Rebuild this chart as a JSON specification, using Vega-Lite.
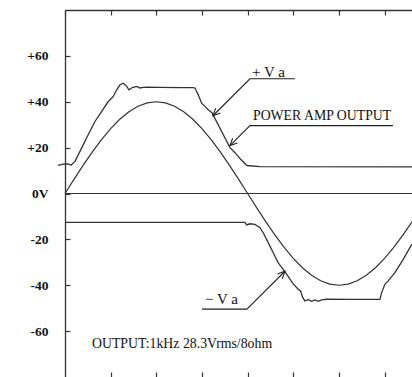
{
  "$schema": "https://vega.github.io/schema/vega-lite/v6.json",
  "width": 347,
  "height": 367,
  "autosize": {"type": "none"},
  "padding": {"left": 65, "top": 10, "right": 0, "bottom": 0},
  "background": "white",
  "config": {
    "view": {"stroke": null},
    "axis": {"grid": false, "domainColor": "#333", "tickColor": "#333", "domainWidth": 1.3, "tickWidth": 1.2, "title": null}
  },
  "datasets": {
    "sine": [
      {"t": 0, "v": 0}, {"t": 25, "v": 6.26}, {"t": 50, "v": 12.36}, {"t": 75, "v": 18.16},
      {"t": 100, "v": 23.51}, {"t": 125, "v": 28.28}, {"t": 150, "v": 32.36}, {"t": 175, "v": 35.64},
      {"t": 200, "v": 38.04}, {"t": 225, "v": 39.51}, {"t": 250, "v": 40}, {"t": 275, "v": 39.51},
      {"t": 300, "v": 38.04}, {"t": 325, "v": 35.64}, {"t": 350, "v": 32.36}, {"t": 375, "v": 28.28},
      {"t": 400, "v": 23.51}, {"t": 425, "v": 18.16}, {"t": 450, "v": 12.36}, {"t": 475, "v": 6.26},
      {"t": 500, "v": 0}, {"t": 525, "v": -6.26}, {"t": 550, "v": -12.36}, {"t": 575, "v": -18.16},
      {"t": 600, "v": -23.51}, {"t": 625, "v": -28.28}, {"t": 650, "v": -32.36}, {"t": 675, "v": -35.64},
      {"t": 700, "v": -38.04}, {"t": 725, "v": -39.51}, {"t": 750, "v": -40}, {"t": 775, "v": -39.51},
      {"t": 800, "v": -38.04}, {"t": 825, "v": -35.64}, {"t": 850, "v": -32.36}, {"t": 875, "v": -28.28},
      {"t": 900, "v": -23.51}, {"t": 925, "v": -18.16}, {"t": 950, "v": -12.36}
    ],
    "pva": [
      {"t": -19, "v": 12.3}, {"t": -5.5, "v": 12.8}, {"t": 9, "v": 12.9}, {"t": 16.4, "v": 12.3},
      {"t": 27.4, "v": 14.0}, {"t": 45.7, "v": 19.9}, {"t": 63.8, "v": 25.7}, {"t": 82.1, "v": 31.4},
      {"t": 100.4, "v": 35.8}, {"t": 118.5, "v": 40.1}, {"t": 132.2, "v": 42.3}, {"t": 141.5, "v": 45.2},
      {"t": 150.5, "v": 47.4}, {"t": 159.6, "v": 48.1}, {"t": 168.9, "v": 46.7}, {"t": 175.2, "v": 45.2},
      {"t": 184.2, "v": 46.2}, {"t": 196.2, "v": 46.7}, {"t": 205.3, "v": 46.0}, {"t": 214.3, "v": 46.3},
      {"t": 224.4, "v": 46.4}, {"t": 260, "v": 46.3}, {"t": 314.8, "v": 46.2}, {"t": 350.3, "v": 46.2},
      {"t": 355.8, "v": 46.0}, {"t": 364.8, "v": 43.0}, {"t": 374.1, "v": 39.4}, {"t": 383.3, "v": 38.0},
      {"t": 392.2, "v": 36.5}, {"t": 402.3, "v": 35.2}, {"t": 451.6, "v": 20.0}, {"t": 465.3, "v": 17.8},
      {"t": 481.7, "v": 14.8}, {"t": 498.1, "v": 12.2}, {"t": 533.7, "v": 11.7}, {"t": 950, "v": 11.6}
    ],
    "nva": [
      {"t": 0, "v": -12.6}, {"t": 492.7, "v": -12.6}, {"t": 497.3, "v": -13.7}, {"t": 506.3, "v": -13.2},
      {"t": 520, "v": -13.5}, {"t": 533.7, "v": -14.9}, {"t": 542.7, "v": -17.1}, {"t": 556.4, "v": -21.4},
      {"t": 570.1, "v": -25.8}, {"t": 583, "v": -30.0}, {"t": 596.8, "v": -33.0}, {"t": 610.4, "v": -36.0},
      {"t": 624.1, "v": -39.3}, {"t": 638.5, "v": -41.7}, {"t": 645.1, "v": -42.5}, {"t": 650.6, "v": -45.3},
      {"t": 656.9, "v": -46.8}, {"t": 665.9, "v": -46.3}, {"t": 675.2, "v": -47.0}, {"t": 684.3, "v": -46.4},
      {"t": 693.3, "v": -47.0}, {"t": 702.6, "v": -46.4}, {"t": 716.3, "v": -46.1}, {"t": 780, "v": -46.2},
      {"t": 862.2, "v": -46.2}, {"t": 866.8, "v": -43.2}, {"t": 875.8, "v": -39.6}, {"t": 884.9, "v": -38.1},
      {"t": 903.2, "v": -34.5}, {"t": 926, "v": -28.7}, {"t": 944.3, "v": -23.6}, {"t": 950, "v": -22.0}
    ],
    "arrows": [
      {"seg": "a1", "o": 1, "t": 629.5, "v": 50}, {"seg": "a1", "o": 2, "t": 506.3, "v": 50}, {"seg": "a1", "o": 3, "t": 405, "v": 33.9},
      {"seg": "h1", "o": 1, "t": 425.5, "v": 35.1}, {"seg": "h1", "o": 2, "t": 405, "v": 33.9}, {"seg": "h1", "o": 3, "t": 412.5, "v": 37.2},
      {"seg": "a2", "o": 1, "t": 897.7, "v": 29.6}, {"seg": "a2", "o": 2, "t": 506.3, "v": 29.6}, {"seg": "a2", "o": 3, "t": 451.6, "v": 20.9},
      {"seg": "h2", "o": 1, "t": 472.1, "v": 22.0}, {"seg": "h2", "o": 2, "t": 451.6, "v": 20.9}, {"seg": "h2", "o": 3, "t": 459, "v": 24.1},
      {"seg": "a3", "o": 1, "t": 375, "v": -50.4}, {"seg": "a3", "o": 2, "t": 498.1, "v": -50.4}, {"seg": "a3", "o": 3, "t": 602.1, "v": -33.9},
      {"seg": "h3", "o": 1, "t": 594.7, "v": -37.2}, {"seg": "h3", "o": 2, "t": 602.1, "v": -33.9}, {"seg": "h3", "o": 3, "t": 581.6, "v": -35.1}
    ],
    "labels": [
      {"t": 511.8, "v": 53, "txt": "+ V a", "size": "big"},
      {"t": 514.6, "v": 33.9, "txt": "POWER AMP OUTPUT", "size": "small"},
      {"t": 383.2, "v": -46.1, "txt": "− V a", "size": "big"},
      {"t": 73.9, "v": -65.7, "txt": "OUTPUT:1kHz 28.3Vrms/8ohm", "size": "small"}
    ]
  },
  "resolve": {"axis": {"x": "independent", "y": "independent"}},
  "layer": [
    {
      "data": {"name": "sine"},
      "mark": {"type": "line", "stroke": "#333", "strokeWidth": 1.2},
      "encoding": {
        "x": {"field": "t", "type": "quantitative", "scale": {"domain": [0, 950], "nice": false, "zero": false},
              "axis": {"orient": "top", "labels": false, "tickSize": -5, "values": [0, 125, 250, 375, 500, 625, 750, 875], "domain": true}},
        "y": {"field": "v", "type": "quantitative", "scale": {"domain": [-80, 80], "nice": false},
              "axis": {"orient": "left", "values": [60, 40, 20, 0, -20, -40, -60], "tickSize": -5, "labelPadding": 22,
                       "labelExpr": "datum.value > 0 ? '+' + datum.value : (datum.value == 0 ? '0V' : '' + datum.value)",
                       "labelFont": "Liberation Serif", "labelFontWeight": "bold", "labelFontSize": 13.5, "labelColor": "#111"}}
      }
    },
    {
      "data": {"name": "pva"},
      "mark": {"type": "line", "stroke": "#333", "strokeWidth": 1.3},
      "encoding": {
        "x": {"field": "t", "type": "quantitative",
              "axis": {"orient": "bottom", "labels": false, "tickSize": -5, "domain": false, "values": [125, 250, 375, 500, 625, 750, 875]}},
        "y": {"field": "v", "type": "quantitative", "axis": null}
      }
    },
    {
      "data": {"name": "nva"},
      "mark": {"type": "line", "stroke": "#333", "strokeWidth": 1.3},
      "encoding": {
        "x": {"field": "t", "type": "quantitative", "axis": null},
        "y": {"field": "v", "type": "quantitative", "axis": null}
      }
    },
    {
      "data": {"values": [{"t": 0, "v": 0}, {"t": 950, "v": 0}]},
      "mark": {"type": "line", "stroke": "#333", "strokeWidth": 1.2},
      "encoding": {
        "x": {"field": "t", "type": "quantitative", "axis": null},
        "y": {"field": "v", "type": "quantitative", "axis": null}
      }
    },
    {
      "data": {"name": "arrows"},
      "mark": {"type": "line", "stroke": "#222", "strokeWidth": 1.1},
      "encoding": {
        "x": {"field": "t", "type": "quantitative", "axis": null},
        "y": {"field": "v", "type": "quantitative", "axis": null},
        "detail": {"field": "seg"},
        "order": {"field": "o", "type": "quantitative"}
      }
    },
    {
      "data": {"name": "labels"},
      "transform": [{"filter": "datum.size == 'big'"}],
      "mark": {"type": "text", "align": "left", "baseline": "middle", "font": "Liberation Serif", "fontSize": 15, "color": "#111"},
      "encoding": {
        "x": {"field": "t", "type": "quantitative", "axis": null},
        "y": {"field": "v", "type": "quantitative", "axis": null},
        "text": {"field": "txt"}
      }
    },
    {
      "data": {"name": "labels"},
      "transform": [{"filter": "datum.size == 'small'"}],
      "mark": {"type": "text", "align": "left", "baseline": "middle", "font": "Liberation Serif", "fontSize": 13.8, "color": "#111"},
      "encoding": {
        "x": {"field": "t", "type": "quantitative", "axis": null},
        "y": {"field": "v", "type": "quantitative", "axis": null},
        "text": {"field": "txt"}
      }
    }
  ]
}
